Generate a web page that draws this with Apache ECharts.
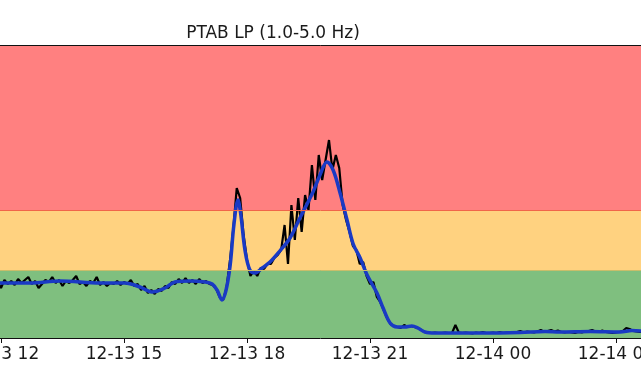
<!DOCTYPE html>
<html>
<head>
<meta charset="utf-8">
<script src="https://cdn.jsdelivr.net/npm/echarts@6/dist/echarts.min.js"></script>
<style>html,body{margin:0;padding:0;background:#fff;}#c{width:641px;height:380px;}</style>
</head>
<body>
<div id="c"></div>
<script>
// Title
var chartTitle = 'PTAB LP (1.0-5.0 Hz)';
// X axis: hours since 12-13 00:00
var xTickValues = [9, 12, 15, 18, 21, 24, 27, 30];
var xTickLabels = ['12-13 09', '12-13 12', '12-13 15', '12-13 18', '12-13 21', '12-14 00', '12-14 03', '12-14 06'];
// Threshold bands (y units)
var yMin = 20, yMax = 2950;
var greenTop = 700, orangeTop = 1300;

// Raw (black) series: one value every 5 minutes from 11.5 h
var blackStartHour = 11.5;
var blackStepMinutes = 5;
var blackValues = [
  560, 590, 540, 600, 550, 580,
  520, 600, 560, 590, 550, 610, 570, 600,
  630, 560, 590, 520, 560, 600, 580, 630,
  570, 600, 540, 590, 570, 600, 640, 560,
  580, 540, 590, 570, 630, 550, 580, 540,
  570, 560, 590, 550, 580, 560, 600, 540,
  560, 500, 540, 470, 500, 460, 510, 490,
  540, 520, 580, 560, 610, 570, 620, 570,
  600, 560, 610, 570, 590, 560, 550, 510,
  430, 400, 520, 790, 1120, 1520, 1420, 1050,
  800, 640, 690, 640, 720, 710, 760, 760,
  820, 850, 900, 1150, 760, 1350, 1000, 1420,
  1080, 1450, 1300, 1750, 1400, 1850, 1600, 1800,
  2000, 1700, 1850, 1720, 1350, 1200, 1080, 940,
  900, 760, 780, 640, 560, 580, 430, 380,
  300, 220, 160, 140, 130, 120, 150, 130,
  140, 130, 120, 100, 80, 70, 70, 75,
  70, 70, 75, 70, 70, 150, 75, 70,
  75, 70, 65, 75, 70, 80, 70, 70,
  75, 70, 80, 70, 75, 70, 75, 80,
  90, 75, 85, 80, 75, 85, 100, 80,
  90, 100, 85, 95, 80, 75, 80, 75,
  70, 80, 75, 85, 90, 100, 85, 80,
  95, 80, 75, 70, 75, 80, 90, 120,
  110, 90, 85, 80, 85, 80
];

// Smoothed (blue) series
var blueTimes = [11.5, 11.98, 12.71, 13.44, 14.41, 15.02, 15.39, 15.68, 16.00, 16.24, 16.61, 16.98,
  17.15, 17.27, 17.39, 17.49, 17.59, 17.68, 17.78, 17.85, 17.95, 18.07, 18.20, 18.37, 18.56,
  18.80, 19.05, 19.29, 19.61, 19.78, 19.95, 20.10, 20.27, 20.44, 20.59, 20.76, 20.93, 21.17,
  21.32, 21.49, 21.66, 21.85, 22.02, 22.17, 22.34, 22.59, 23.68, 24.66, 25.27, 25.63, 26.37,
  27.10, 27.39, 27.71];
var blueValues = [570, 570, 570, 590, 570, 570, 530, 480, 520, 580, 590, 580,
  560, 500, 400, 500, 750, 1150, 1400, 1250, 900, 700, 670, 720, 780,
  890, 1020, 1220, 1480, 1650, 1780, 1700, 1470, 1200, 960, 820, 650, 470,
  320, 170, 130, 130, 140, 120, 80, 70, 70, 75, 85, 80, 85,
  80, 95, 85];

var blackData = blackValues.map(function (v, i) {
  return [blackStartHour + i * blackStepMinutes / 60, v];
});
var blueData = blueTimes.map(function (t, i) { return [t, blueValues[i]]; });

var chart = echarts.init(document.getElementById('c'), null, {renderer: 'canvas'});
chart.setOption({
  animation: false,
  backgroundColor: '#ffffff',
  title: {
    text: chartTitle,
    left: 268, top: 20, textAlign: 'center',
    textStyle: {fontFamily: 'DejaVu Sans', fontSize: 17, fontWeight: 'normal', color: '#1a1a1a'}
  },
  grid: {left: -122, right: -98, top: 45, bottom: 42, containLabel: false, outerBoundsMode: 'none', show: false},
  xAxis: [{
    type: 'value', min: 9, max: 30, interval: 3, z: 10,
    axisLine: {show: true, lineStyle: {color: '#111', width: 1}},
    axisTick: {show: true, length: 5, lineStyle: {color: '#111', width: 1}},
    splitLine: {show: false},
    axisLabel: {
      margin: 8, fontFamily: 'DejaVu Sans', fontSize: 17, color: '#1a1a1a',
      formatter: function (v) { var k = xTickValues.indexOf(v); return k >= 0 ? xTickLabels[k] : ''; }
    }
  }, {
    type: 'value', min: 9, max: 30, position: 'top', z: 10,
    axisLine: {show: true, onZero: false, lineStyle: {color: '#111', width: 1}},
    axisTick: {show: false}, axisLabel: {show: false}, splitLine: {show: false}
  }],
  yAxis: {type: 'value', min: yMin, max: yMax, show: false, splitLine: {show: false}},
  series: [{
    type: 'line', data: [], silent: true,
    markArea: {
      silent: true,
      data: [
        [{yAxis: yMin, itemStyle: {color: '#7fbf7f'}}, {yAxis: greenTop}],
        [{yAxis: greenTop, itemStyle: {color: '#ffd280'}}, {yAxis: orangeTop}],
        [{yAxis: orangeTop, itemStyle: {color: '#ff8080'}}, {yAxis: yMax}]
      ]
    },
    markLine: {
      silent: true, symbol: 'none', label: {show: false},
      data: [
        {yAxis: greenTop, lineStyle: {color: '#c9bd6a', width: 1, type: 'solid'}},
        {yAxis: orangeTop, lineStyle: {color: '#f0654a', width: 1, type: 'solid'}}
      ]
    }
  }, {
    type: 'line', data: blackData, showSymbol: false, silent: true,
    lineStyle: {color: '#000000', width: 2.2}, z: 3
  }, {
    type: 'line', data: blueData, showSymbol: false, silent: true, smooth: 0.35,
    lineStyle: {color: '#1a3ac4', width: 3.5}, z: 4
  }]
});
</script>
</body>
</html>
